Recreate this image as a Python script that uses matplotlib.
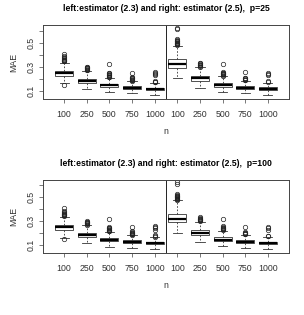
import matplotlib.pyplot as plt
import numpy as np

plt.rcParams['font.family'] = ['Liberation Sans', 'DejaVu Sans']

n_labels = ["100", "250", "500", "750", "1000"] * 2

# box stats, left 5 = estimator (2.3), right 5 = estimator (2.5)
q1_25 = [0.226, 0.166, 0.132, 0.116, 0.106, 0.292, 0.186, 0.132, 0.116, 0.106]
med_25 = [0.247, 0.183, 0.146, 0.127, 0.116, 0.322, 0.205, 0.147, 0.129, 0.117]
q3_25 = [0.268, 0.202, 0.161, 0.140, 0.128, 0.362, 0.228, 0.166, 0.143, 0.130]
lo_25 = [0.165, 0.115, 0.088, 0.080, 0.070, 0.205, 0.125, 0.092, 0.080, 0.070]
hi_25 = [0.335, 0.268, 0.210, 0.180, 0.165, 0.475, 0.298, 0.222, 0.185, 0.170]
out_25 = [
    [0.148, 0.345, 0.35, 0.355, 0.36, 0.365, 0.37, 0.38, 0.39, 0.41],
    [0.272, 0.277, 0.282, 0.287, 0.292, 0.297, 0.30],
    [0.215, 0.22, 0.225, 0.23, 0.235, 0.24, 0.245, 0.25, 0.32],
    [0.185, 0.19, 0.195, 0.20, 0.205, 0.21, 0.215, 0.25],
    [0.172, 0.177, 0.182, 0.23, 0.24, 0.25, 0.26],
    [0.48, 0.485, 0.49, 0.495, 0.50, 0.505, 0.51, 0.515, 0.52, 0.53, 0.61, 0.625],
    [0.302, 0.307, 0.312, 0.317, 0.322, 0.33, 0.335],
    [0.227, 0.232, 0.237, 0.242, 0.247, 0.252, 0.26, 0.32],
    [0.19, 0.195, 0.20, 0.205, 0.21, 0.255],
    [0.175, 0.18, 0.23, 0.24, 0.25],
]

q1_100 = [0.228, 0.166, 0.132, 0.116, 0.106, 0.292, 0.186, 0.132, 0.116, 0.106]
med_100 = [0.248, 0.183, 0.146, 0.127, 0.116, 0.322, 0.205, 0.147, 0.129, 0.117]
q3_100 = [0.270, 0.204, 0.162, 0.140, 0.128, 0.362, 0.228, 0.167, 0.143, 0.130]
lo_100 = [0.162, 0.115, 0.088, 0.080, 0.070, 0.205, 0.125, 0.092, 0.080, 0.070]
hi_100 = [0.338, 0.268, 0.210, 0.182, 0.165, 0.475, 0.298, 0.222, 0.185, 0.170]
out_100 = [
    [0.152, 0.345, 0.35, 0.355, 0.36, 0.365, 0.37, 0.38, 0.39, 0.41],
    [0.272, 0.277, 0.282, 0.287, 0.292, 0.297, 0.30],
    [0.215, 0.22, 0.225, 0.23, 0.235, 0.24, 0.245, 0.25, 0.32],
    [0.185, 0.19, 0.195, 0.20, 0.205, 0.21, 0.215, 0.25],
    [0.172, 0.177, 0.182, 0.23, 0.24, 0.25, 0.26],
    [0.48, 0.485, 0.49, 0.495, 0.50, 0.505, 0.51, 0.515, 0.52, 0.53, 0.61, 0.625],
    [0.302, 0.307, 0.312, 0.317, 0.322, 0.33, 0.335],
    [0.227, 0.232, 0.237, 0.242, 0.247, 0.252, 0.26, 0.32],
    [0.19, 0.195, 0.20, 0.205, 0.21, 0.255],
    [0.175, 0.18, 0.23, 0.24, 0.25],
]

titles = ["left:estimator (2.3) and right: estimator (2.5),  p=25",
          "left:estimator (2.3) and right: estimator (2.5),  p=100"]


def draw_panel(ax, q1, med, q3, lo, hi, out, title):
    stats = []
    for i in range(len(med)):
        stats.append(dict(q1=q1[i], med=med[i], q3=q3[i],
                          whislo=lo[i], whishi=hi[i], fliers=out[i]))
    pos = np.arange(1, len(med) + 1)
    ax.bxp(stats, positions=pos, widths=0.8, patch_artist=True,
           boxprops=dict(facecolor='white', edgecolor='#333333', linewidth=0.6),
           medianprops=dict(color='black', linewidth=1.6),
           whiskerprops=dict(color='#333333', linewidth=0.6, linestyle=(0, (2, 2))),
           capprops=dict(color='#333333', linewidth=0.6),
           capwidths=0.4,
           flierprops=dict(marker='o', markerfacecolor='none',
                           markeredgecolor='#222222', markersize=3.2,
                           markeredgewidth=0.5))
    ax.axvline(5.5, color='#222222', linewidth=0.7)
    ax.set_xlim(0.07, 10.93)
    ax.set_ylim(0.034, 0.646)
    ax.set_xticks(pos)
    ax.set_xticklabels(n_labels, fontsize=6.3, color='#333333')
    ax.set_yticks([0.1, 0.2, 0.3, 0.4, 0.5, 0.6])
    ax.set_yticklabels(["0.1", "", "0.3", "", "0.5", ""], rotation=90,
                       va='center', fontsize=6.3, color='#333333')
    ax.tick_params(length=3, width=0.5, color='#444444', pad=2)
    ax.tick_params(axis='x', pad=5)
    for s in ax.spines.values():
        s.set_linewidth(0.7)
        s.set_color('#444444')
    ax.set_xlabel("n", fontsize=6.3, labelpad=6, color='#333333')
    ax.set_ylabel("MAE", fontsize=6.3, labelpad=6, color='#333333')
    ax.set_title(title, fontsize=6.2, fontweight='bold', pad=10)


fig = plt.figure(figsize=(3.04, 3.15), dpi=100)
ax1 = fig.add_axes([0.1414, 0.6857, 0.8093, 0.2349])
ax2 = fig.add_axes([0.1414, 0.1968, 0.8093, 0.2318])
draw_panel(ax1, q1_25, med_25, q3_25, lo_25, hi_25, out_25, titles[0])
draw_panel(ax2, q1_100, med_100, q3_100, lo_100, hi_100, out_100, titles[1])
fig.savefig("out.png", dpi=100)
